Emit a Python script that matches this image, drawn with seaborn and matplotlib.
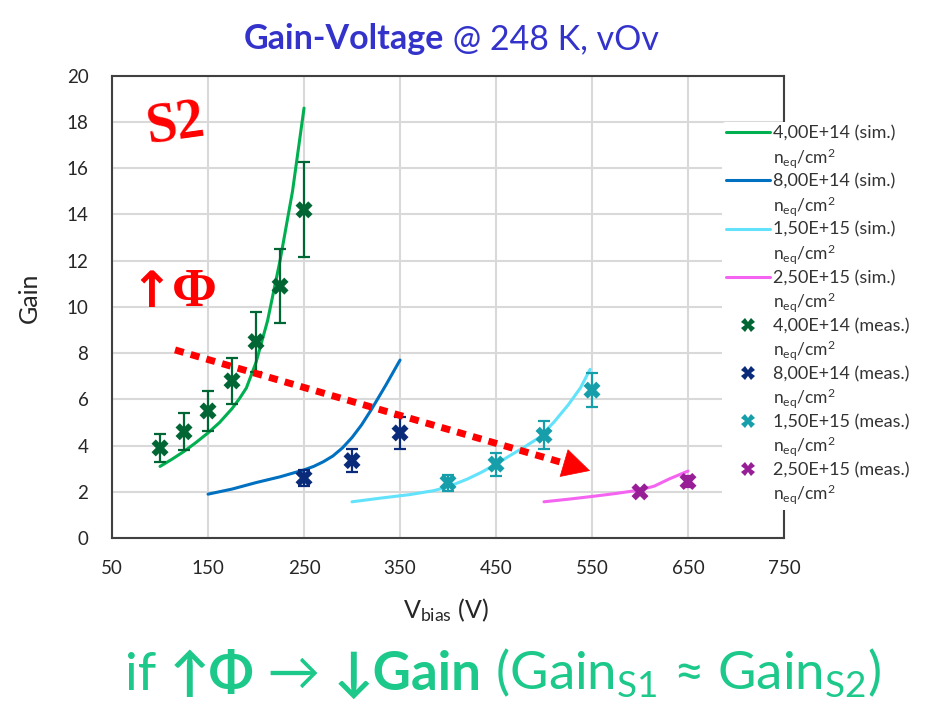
import matplotlib
matplotlib.use("Agg")
import matplotlib.pyplot as plt
from matplotlib.lines import Line2D
import numpy as np
import pandas as pd
import seaborn as sns

# ---- simulated gain curves (V_bias in V, gain) ----
sim_v_4e14 = [100, 112, 125, 137, 150, 162, 175, 183, 190, 200, 212, 225, 238, 250]
sim_g_4e14 = [3.1, 3.4, 3.75, 4.12, 4.55, 5.0, 5.6, 6.05, 6.5, 7.6, 9.4, 12.0, 15.0, 18.6]
sim_v_8e14 = [150, 175, 200, 225, 250, 260, 270, 280, 290, 300, 310, 320, 335, 350]
sim_g_8e14 = [1.9, 2.12, 2.4, 2.65, 2.95, 3.1, 3.3, 3.55, 3.9, 4.35, 4.9, 5.55, 6.6, 7.7]
sim_v_15e15 = [300, 330, 360, 385, 400, 420, 435, 450, 465, 480, 495, 510, 525, 538, 548]
sim_g_15e15 = [1.57, 1.73, 1.88, 2.05, 2.22, 2.55, 2.85, 3.2, 3.58, 3.95, 4.35, 5.0, 5.75, 6.5, 7.3]
sim_v_25e15 = [500, 525, 550, 575, 600, 615, 630, 650]
sim_g_25e15 = [1.57, 1.68, 1.8, 1.93, 2.08, 2.25, 2.55, 2.9]

# ---- measured gain with uncertainties ----
meas_v_4e14 = [100, 125, 150, 175, 200, 225, 250]
meas_g_4e14 = [3.9, 4.6, 5.5, 6.8, 8.5, 10.9, 14.2]
meas_e_4e14 = [0.6, 0.8, 0.85, 1.0, 1.3, 1.6, 2.05]
meas_v_8e14 = [250, 300, 350]
meas_g_8e14 = [2.6, 3.35, 4.55]
meas_e_8e14 = [0.35, 0.5, 0.7]
meas_v_15e15 = [400, 450, 500, 550]
meas_g_15e15 = [2.4, 3.2, 4.45, 6.4]
meas_e_15e15 = [0.35, 0.5, 0.6, 0.75]
meas_v_25e15 = [600, 650]
meas_g_25e15 = [2.0, 2.45]
meas_e_25e15 = [0.12, 0.25]

fluences = ["4,00E+14", "8,00E+14", "1,50E+15", "2,50E+15"]
sim_colors = ["#00B050", "#0070C0", "#62E3FB", "#F464F0"]
meas_colors = ["#006633", "#0A2A7A", "#169FAA", "#971E96"]

x_ticks = [50, 150, 250, 350, 450, 550, 650, 750]
y_ticks = [0, 2, 4, 6, 8, 10, 12, 14, 16, 18, 20]

# trend arrow (V, gain): tail, head base, tip
trend_v = [115.6, 526, 548]
trend_g = [8.14, 3.18, 2.91]

sim_sets = [(sim_v_4e14, sim_g_4e14), (sim_v_8e14, sim_g_8e14),
            (sim_v_15e15, sim_g_15e15), (sim_v_25e15, sim_g_25e15)]
meas_sets = [(meas_v_4e14, meas_g_4e14, meas_e_4e14),
             (meas_v_8e14, meas_g_8e14, meas_e_8e14),
             (meas_v_15e15, meas_g_15e15, meas_e_15e15),
             (meas_v_25e15, meas_g_25e15, meas_e_25e15)]

sim_df = pd.concat([pd.DataFrame({"V": v, "Gain": g, "fluence": f})
                    for (v, g), f in zip(sim_sets, fluences)], ignore_index=True)
meas_df = pd.concat([pd.DataFrame({"V": v, "Gain": g, "err": e, "fluence": f})
                     for (v, g, e), f in zip(meas_sets, fluences)], ignore_index=True)

sns.set_theme(style="white")
FONT = ["Lato", "DejaVu Sans"]
SERIF = ["Liberation Serif", "DejaVu Serif"]
plt.rcParams["font.family"] = FONT
plt.rcParams["mathtext.fontset"] = "custom"
plt.rcParams["mathtext.rm"] = "Lato"
plt.rcParams["mathtext.it"] = "Lato:italic"
plt.rcParams["mathtext.bf"] = "Lato:bold"

fig = plt.figure(figsize=(9.36, 7.08), dpi=100, facecolor="white")
ax = fig.add_axes([0.1197, 0.240, 0.7179, 0.653])

# simulation curves
sns.lineplot(data=sim_df, x="V", y="Gain", hue="fluence", hue_order=fluences,
             palette=sim_colors, estimator=None, sort=False, lw=2.2,
             legend=False, ax=ax, zorder=3)

# measurements with error bars
for (f, c) in zip(fluences, meas_colors):
    d = meas_df[meas_df["fluence"] == f]
    ax.errorbar(d["V"], d["Gain"], yerr=d["err"], fmt="none", ecolor=c,
                elinewidth=1.6, capsize=4.5, capthick=1.6, zorder=4)
sns.scatterplot(data=meas_df, x="V", y="Gain", hue="fluence", hue_order=fluences,
                palette=meas_colors, marker="X", s=150, linewidth=0,
                legend=False, ax=ax, zorder=5)

# trend arrow
ax.plot(trend_v[:2], trend_g[:2], color="#FF0000", lw=5,
        linestyle=(0, (1.3, 1.05)), dash_capstyle="butt", zorder=6)
ax.annotate("", xy=(trend_v[2], trend_g[2]), xytext=(trend_v[1], trend_g[1]),
            arrowprops=dict(arrowstyle="-|>,head_length=0.95,head_width=0.5",
                            color="#FF0000", lw=0.5, shrinkA=0, shrinkB=0,
                            mutation_scale=20), zorder=6)

ax.text(0.094, 0.894, "S2", transform=ax.transAxes, ha="center", va="center",
        color="#FF0000", fontsize=40, fontweight="bold", rotation=8,
        family=SERIF, zorder=7)
ax.text(0.058, 0.53, "↑", transform=ax.transAxes, ha="center", va="center",
        color="#FF0000", fontsize=36, fontweight="bold",
        family=["DejaVu Sans"], zorder=7)
ax.text(0.122, 0.53, "Φ", transform=ax.transAxes, ha="center", va="center",
        color="#FF0000", fontsize=39, fontweight="bold", family=SERIF, zorder=7)

ax.set_xlim(50, 750)
ax.set_ylim(0, 20)
ax.set_xticks(x_ticks)
ax.set_yticks(y_ticks)
ax.grid(True, color="#D9D9D9", lw=1.5)
ax.set_axisbelow(True)
for s in ax.spines.values():
    s.set_color("#404040")
    s.set_linewidth(1.5)
ax.tick_params(length=0, labelsize=13.5, colors="#262626")
ax.tick_params(axis="y", pad=17)
ax.tick_params(axis="x", pad=16)
ax.set_xlabel(r"V$_{\mathrm{bias}}$ (V)", fontsize=18, color="#262626")
ax.set_ylabel("Gain", fontsize=18, color="#262626")
ax.xaxis.set_label_coords(0.497, -0.125)
ax.yaxis.set_label_coords(-0.106, 0.52)

# legend: each entry followed by its unit row
handles, labels = [], []
blank = Line2D([], [], color="none")
for f, c in zip(fluences, sim_colors):
    handles += [Line2D([], [], color=c, lw=2.2), blank]
    labels += [f"{f} (sim.)", r"n$_{\mathrm{eq}}$/cm$^{2}$"]
for f, c in zip(fluences, meas_colors):
    handles += [Line2D([], [], color=c, marker="X", ms=10, lw=0, markeredgewidth=0), blank]
    labels += [f"{f} (meas.)", r"n$_{\mathrm{eq}}$/cm$^{2}$"]
leg = fig.legend(handles, labels, loc="upper left", bbox_to_anchor=(722 / 936, 1 - 122 / 708),
                 frameon=True, framealpha=1, edgecolor="none", facecolor="white",
                 handlelength=2.45, handletextpad=0.2, labelspacing=0.22,
                 borderpad=0.2, borderaxespad=0,
                 prop={"family": FONT, "size": 13})
for t in leg.get_texts():
    t.set_color("#333333")
    if t.get_text().startswith("n$"):
        t.set_fontsize(12.5)

# title pieces
title_color = "#3333CC"
fig.text(444 / 936, 1 - 49 / 708, "Gain-Voltage", ha="right", va="baseline",
         fontsize=24.5, fontweight="bold", color=title_color)
fig.text(444 / 936, 1 - 49 / 708, " @ 248 K, vOv", ha="left", va="baseline",
         fontsize=24.5, color=title_color)

# bottom statement
green = "#1CC88A"
y0 = 1 - 690 / 708
parts = [("if ", "normal"), ("↑Φ", "bold"), (" → ", "normal"), ("↓Gain", "bold"),
         (r" (Gain$_{\mathrm{S1}}$ ≈ Gain$_{\mathrm{S2}}$)", "normal")]
pieces = [fig.text(0, y0, txt, ha="left", va="baseline", fontsize=38,
                   color=green, fontweight=w) for txt, w in parts]
fig.canvas.draw()
r = fig.canvas.get_renderer()
x = 125
for t in pieces:
    t.set_position((x / 936, y0))
    x += t.get_window_extent(renderer=r).width

fig.savefig("out.png", dpi=100, facecolor="white")
